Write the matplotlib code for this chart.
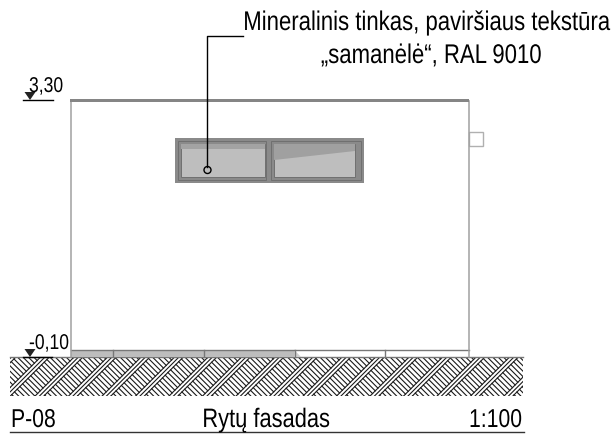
import numpy as np
import matplotlib
matplotlib.use('Agg')
import matplotlib.pyplot as plt
import matplotlib.patheffects as pe
from matplotlib.patches import Rectangle, Polygon, Circle
from matplotlib.transforms import Affine2D

plt.rcParams['font.family'] = ['Liberation Sans', 'DejaVu Sans']

# everything in image pixels
WALL_X = [70.5, 468.5]
WALL_TOP = 101
WALL_BOTTOM = 349.5
GROUND = [10, 523, 357, 396]
PLINTH_JOINTS = [112.5, 203.5, 294.5, 384.5]
PLINTH_FILL = [71, 294]
WINDOW = [175, 364, 138, 183]
PANE_L = [181, 265, 144, 177]
PANE_R = [274, 355, 144, 177]
LEVELS = ['3,30', '-0,10']
LEVEL_Y = [100, 357]
NOTE = ['Mineralinis tinkas, paviršiaus tekstūra', '„samanėlė“, RAL 9010']
FOOTER = ['P-08', 'Rytų fasadas', '1:100']


class Narrow(pe.AbstractPathEffect):
    # squeeze glyphs in x around the text anchor, no narrow font is installed
    def __init__(self, anchor_x, sx=0.82):
        super().__init__()
        self.anchor_x = anchor_x
        self.sx = sx

    def draw_path(self, renderer, gc, tpath, affine, rgbFace=None):
        squeeze = Affine2D().translate(-self.anchor_x, 0).scale(self.sx, 1).translate(self.anchor_x, 0)
        renderer.draw_path(gc, tpath, affine + squeeze, rgbFace)


def label(x, y, s, size, ha):
    ax.text(x, y, s, fontsize=size, ha=ha, va='baseline', color='black', zorder=9,
            path_effects=[Narrow(x)])


fig = plt.figure(figsize=(6.14, 4.37), dpi=100)
ax = fig.add_axes([0, 0, 1, 1])
ax.set_xlim(0, 614)
ax.set_ylim(437, 0)
ax.axis('off')

# ground hatch: bundles of / lines, \ ticks between the bundles
x0, x1, y0, y1 = GROUND
clip = Rectangle((x0, y0), x1 - x0, y1 - y0, fc='white', ec='none', zorder=1)
ax.add_patch(clip)
period = 33.5
gap = 4.4
for p in np.arange(397.6 - 2 * period, x1 + y1 + period, period):
    for j in range(3):
        pj = p + j * gap
        ln, = ax.plot([pj - y1, pj - y0], [y1, y0], color='#1a1a1a', lw=0.8, zorder=2)
        ln.set_clip_path(clip)
    # ticks run from this bundle's last line to the next bundle's first
    pa = p + 2 * gap
    pb = p + period
    for q in np.arange(x0 - y1 - 40, x1 - y0 + 40, 5.4):
        ln, = ax.plot([(pa + q) / 2, (pb + q) / 2], [(pa - q) / 2, (pb - q) / 2],
                      color='#1a1a1a', lw=0.8, zorder=2)
        ln.set_clip_path(clip)
ax.plot([x0, x1], [y0, y0], color='#777777', lw=1.0, zorder=3)

# plinth
ax.add_patch(Rectangle((PLINTH_FILL[0], WALL_BOTTOM), PLINTH_FILL[1] - PLINTH_FILL[0],
                       y0 - WALL_BOTTOM, fc='#bdbdbd', ec='none', zorder=3))
ax.add_patch(Polygon([(PLINTH_FILL[1], WALL_BOTTOM), (PLINTH_FILL[1] + 7, y0), (PLINTH_FILL[1], y0)],
                     fc='#d0d0d0', ec='none', zorder=3))
ax.plot([WALL_X[0], WALL_X[1]], [WALL_BOTTOM, WALL_BOTTOM], color='#777777', lw=1.0, zorder=4)
for jx in PLINTH_JOINTS:
    ax.plot([jx, jx], [WALL_BOTTOM, y0], color='#777777', lw=1.0, zorder=4)

# walls and roof
for wx in WALL_X:
    ax.plot([wx, wx], [WALL_TOP, y0], color='#a0a0a0', lw=1.1, zorder=4)
ax.add_patch(Rectangle((70, 99), 399, 3, fc='#858585', ec='none', zorder=5))

# small box on the right wall
ax.add_patch(Rectangle((468.5, 131.5), 14, 14.5, fc='white', ec='#b0b0b0', lw=1.0, zorder=3))

# window
wx0, wx1, wy0, wy1 = WINDOW
ax.add_patch(Rectangle((wx0, wy0), wx1 - wx0, wy1 - wy0, fc='#8a8a8a', ec='none', zorder=3))
ax.add_patch(Rectangle((wx0 + 3, wy0 + 3), 88, wy1 - wy0 - 6, fc='none', ec='#707070', lw=0.7, zorder=4))
ax.add_patch(Rectangle((271, wy0 + 3), 90, wy1 - wy0 - 6, fc='none', ec='#707070', lw=0.7, zorder=4))
for (a, b, c, d) in [PANE_L, PANE_R]:
    ax.add_patch(Rectangle((a, c), b - a, d - c, fc='#bebebe', ec='#707070', lw=0.7, zorder=5))
ax.add_patch(Rectangle((PANE_L[0], PANE_L[2]), PANE_L[1] - PANE_L[0], 5, fc='#a3a3a3', ec='none', zorder=6))
ax.add_patch(Polygon([(PANE_R[0], 144), (PANE_R[1], 144), (PANE_R[1], 151), (PANE_R[0], 160)],
                     fc='#a0a0a0', ec='none', zorder=6))

# leader line
ax.plot([243, 207, 207], [36, 36, 166.5], color='black', lw=1.0, zorder=8)
ax.add_patch(Circle((207.5, 170), 3.5, fc='none', ec='black', lw=1.0, zorder=8))

# level marks
for lab, ly, lx1 in zip(LEVELS, LEVEL_Y, [53, 52]):
    ax.plot([23, lx1], [ly, ly], color='black', lw=1.0, zorder=8)
    ax.add_patch(Polygon([(24.5, ly - 8), (35.5, ly - 8), (30, ly)], fc='#222222', ec='none', zorder=8))
    label(29, ly - 8, lab, 15.4, 'left')

# note text
label(610, 30, NOTE[0], 19.45, 'right')
label(431, 63, NOTE[1], 19.45, 'center')

# footer
label(11, 427, FOOTER[0], 18.6, 'left')
label(266, 427, FOOTER[1], 19.2, 'center')
label(522, 427, FOOTER[2], 18.6, 'right')
ax.plot([10, 524], [432, 432], color='#333333', lw=1.0)

fig.savefig('out.png', dpi=100)
